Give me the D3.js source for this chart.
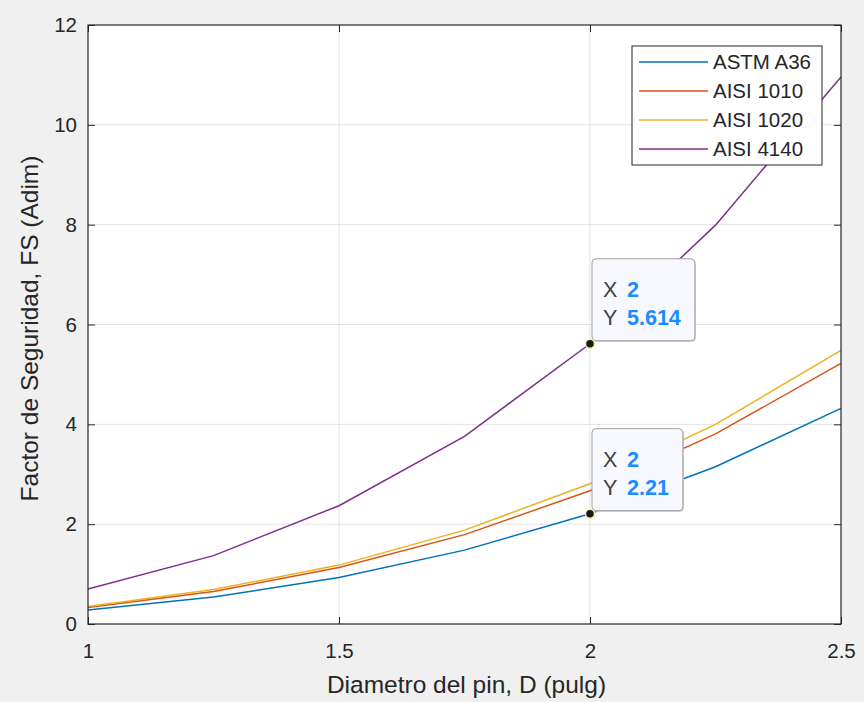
<!DOCTYPE html>
<html>
<head>
<meta charset="utf-8">
<script src="https://cdn.jsdelivr.net/npm/d3@7"></script>
<style>
  body { margin: 0; background: #f0f0f0; }
  text { font-family: "Liberation Sans", Arial, sans-serif; }
</style>
</head>
<body>
<svg id="chart" width="864" height="702"></svg>
<script>
// data
const diameters = [1, 1.25, 1.5, 1.75, 2, 2.25, 2.5];
const seriesNames = ["ASTM A36", "AISI 1010", "AISI 1020", "AISI 4140"];
const astmA36 = [0.28, 0.54, 0.93, 1.48, 2.21, 3.15, 4.32];
const aisi1010 = [0.33, 0.65, 1.13, 1.79, 2.67, 3.81, 5.22];
const aisi1020 = [0.35, 0.69, 1.18, 1.88, 2.81, 4.0, 5.48];
const aisi4140 = [0.70, 1.37, 2.37, 3.76, 5.614, 7.99, 10.96];
const seriesColors = ["#0072BD", "#D95319", "#EDB120", "#7E2F8E"];
const xTicks = [1, 1.5, 2, 2.5];
const yTicks = [0, 2, 4, 6, 8, 10, 12];
const tipSeries = ["AISI 4140", "ASTM A36"];
const tipX = [2, 2];
const tipY = ["5.614", "2.21"];

const allSeries = [astmA36, aisi1010, aisi1020, aisi4140];

const W = 864, H = 702;
const margin = { top: 25, right: 23, bottom: 78, left: 88 };
const width = W - margin.left - margin.right;
const height = H - margin.top - margin.bottom;

const svg = d3.select("#chart");
svg.append("rect").attr("width", W).attr("height", H).attr("fill", "#f0f0f0");

const g = svg.append("g").attr("transform", `translate(${margin.left},${margin.top})`);

const x = d3.scaleLinear().domain([1, 2.5]).range([0, width]);
const y = d3.scaleLinear().domain([0, 12]).range([height, 0]);

g.append("rect").attr("width", width).attr("height", height).attr("fill", "#fff");

// grid
g.append("g").selectAll("line").data(xTicks.slice(1, -1)).enter().append("line")
  .attr("x1", d => x(d)).attr("x2", d => x(d)).attr("y1", 0).attr("y2", height)
  .attr("stroke", "#e3e3e3");
g.append("g").selectAll("line").data(yTicks.slice(1, -1)).enter().append("line")
  .attr("y1", d => y(d)).attr("y2", d => y(d)).attr("x1", 0).attr("x2", width)
  .attr("stroke", "#e3e3e3");

// lines
const line = d3.line().x((d, i) => x(diameters[i])).y(d => y(d));
allSeries.forEach((s, i) => {
  g.append("path").datum(s).attr("d", line)
    .attr("fill", "none").attr("stroke", seriesColors[i]).attr("stroke-width", 1.5);
});

// axes
const fmt = d3.format("~g");
function styleAxis(sel) {
  sel.select(".domain").remove();
  sel.selectAll(".tick line").attr("stroke", "#262626");
  sel.selectAll(".tick text").attr("fill", "#262626").style("font-size", "20.5px")
    .style("font-family", "'Liberation Sans', Arial, sans-serif");
}
g.append("g").attr("transform", `translate(0,${height})`)
  .call(d3.axisBottom(x).tickValues(xTicks).tickFormat(fmt).tickSize(-7).tickPadding(19))
  .call(styleAxis);
g.append("g")
  .call(d3.axisTop(x).tickValues(xTicks).tickFormat("").tickSize(-7))
  .call(styleAxis);
g.append("g")
  .call(d3.axisLeft(y).tickValues(yTicks).tickFormat(fmt).tickSize(-7).tickPadding(11))
  .call(styleAxis);
g.append("g").attr("transform", `translate(${width},0)`)
  .call(d3.axisRight(y).tickValues(yTicks).tickFormat("").tickSize(-7))
  .call(styleAxis);

g.append("rect").attr("width", width).attr("height", height)
  .attr("fill", "none").attr("stroke", "#262626").attr("stroke-width", 1.2);

// axis labels
svg.append("text").attr("x", margin.left + width / 2 + 2).attr("y", 693)
  .attr("text-anchor", "middle").attr("fill", "#262626").style("font-size", "24.5px")
  .text("Diametro del pin, D (pulg)");
svg.append("text").attr("transform", `translate(38,${margin.top + height / 2 + 4}) rotate(-90)`)
  .attr("text-anchor", "middle").attr("fill", "#262626").style("font-size", "24.5px")
  .text("Factor de Seguridad, FS (Adim)");

// legend
const lg = g.append("g").attr("transform", `translate(${width - 209},21)`);
lg.append("rect").attr("width", 190).attr("height", 119)
  .attr("fill", "#fff").attr("stroke", "#262626");
seriesNames.forEach((name, i) => {
  const cy = 16 + i * 29;
  lg.append("line").attr("x1", 7).attr("x2", 76).attr("y1", cy).attr("y2", cy)
    .attr("stroke", seriesColors[i]).attr("stroke-width", 1.5);
  lg.append("text").attr("x", 81).attr("y", cy + 7).attr("fill", "#262626")
    .style("font-size", "20.5px").text(name);
});

// data tips
tipSeries.forEach((name, i) => {
  const px = x(tipX[i]), py = y(+tipY[i]);
  const tg = g.append("g").attr("transform", `translate(${px + 2},${py - 3})`);
  const shadow = tg.append("rect");
  const box = tg.append("rect");
  tg.append("text").attr("x", 11).attr("y", -44).attr("fill", "#404040")
    .style("font-size", "21.5px").text("X");
  tg.append("text").attr("x", 11).attr("y", -16).attr("fill", "#404040")
    .style("font-size", "21.5px").text("Y");
  tg.append("text").attr("x", 35).attr("y", -44).attr("fill", "#1a8cff")
    .style("font-size", "21.5px").style("font-weight", "bold").text(fmt(tipX[i]));
  const vt = tg.append("text").attr("x", 35).attr("y", -16).attr("fill", "#1a8cff")
    .style("font-size", "21.5px").style("font-weight", "bold").text(tipY[i]);
  const bw = 35 + vt.node().getComputedTextLength() + 14;
  shadow.attr("x", 1).attr("y", -81).attr("width", bw).attr("height", 82).attr("rx", 4)
    .attr("fill", "#c8c8c8");
  box.attr("x", 0).attr("y", -82).attr("width", bw).attr("height", 82).attr("rx", 4)
    .attr("fill", "#f8f8ff").attr("stroke", "#a0a0a0");
  g.append("circle").attr("cx", px).attr("cy", py).attr("r", 4.5)
    .attr("fill", "#1a1a1a").attr("stroke", "#f5f0a8").attr("stroke-width", 1.5);
});
</script>
</body>
</html>
